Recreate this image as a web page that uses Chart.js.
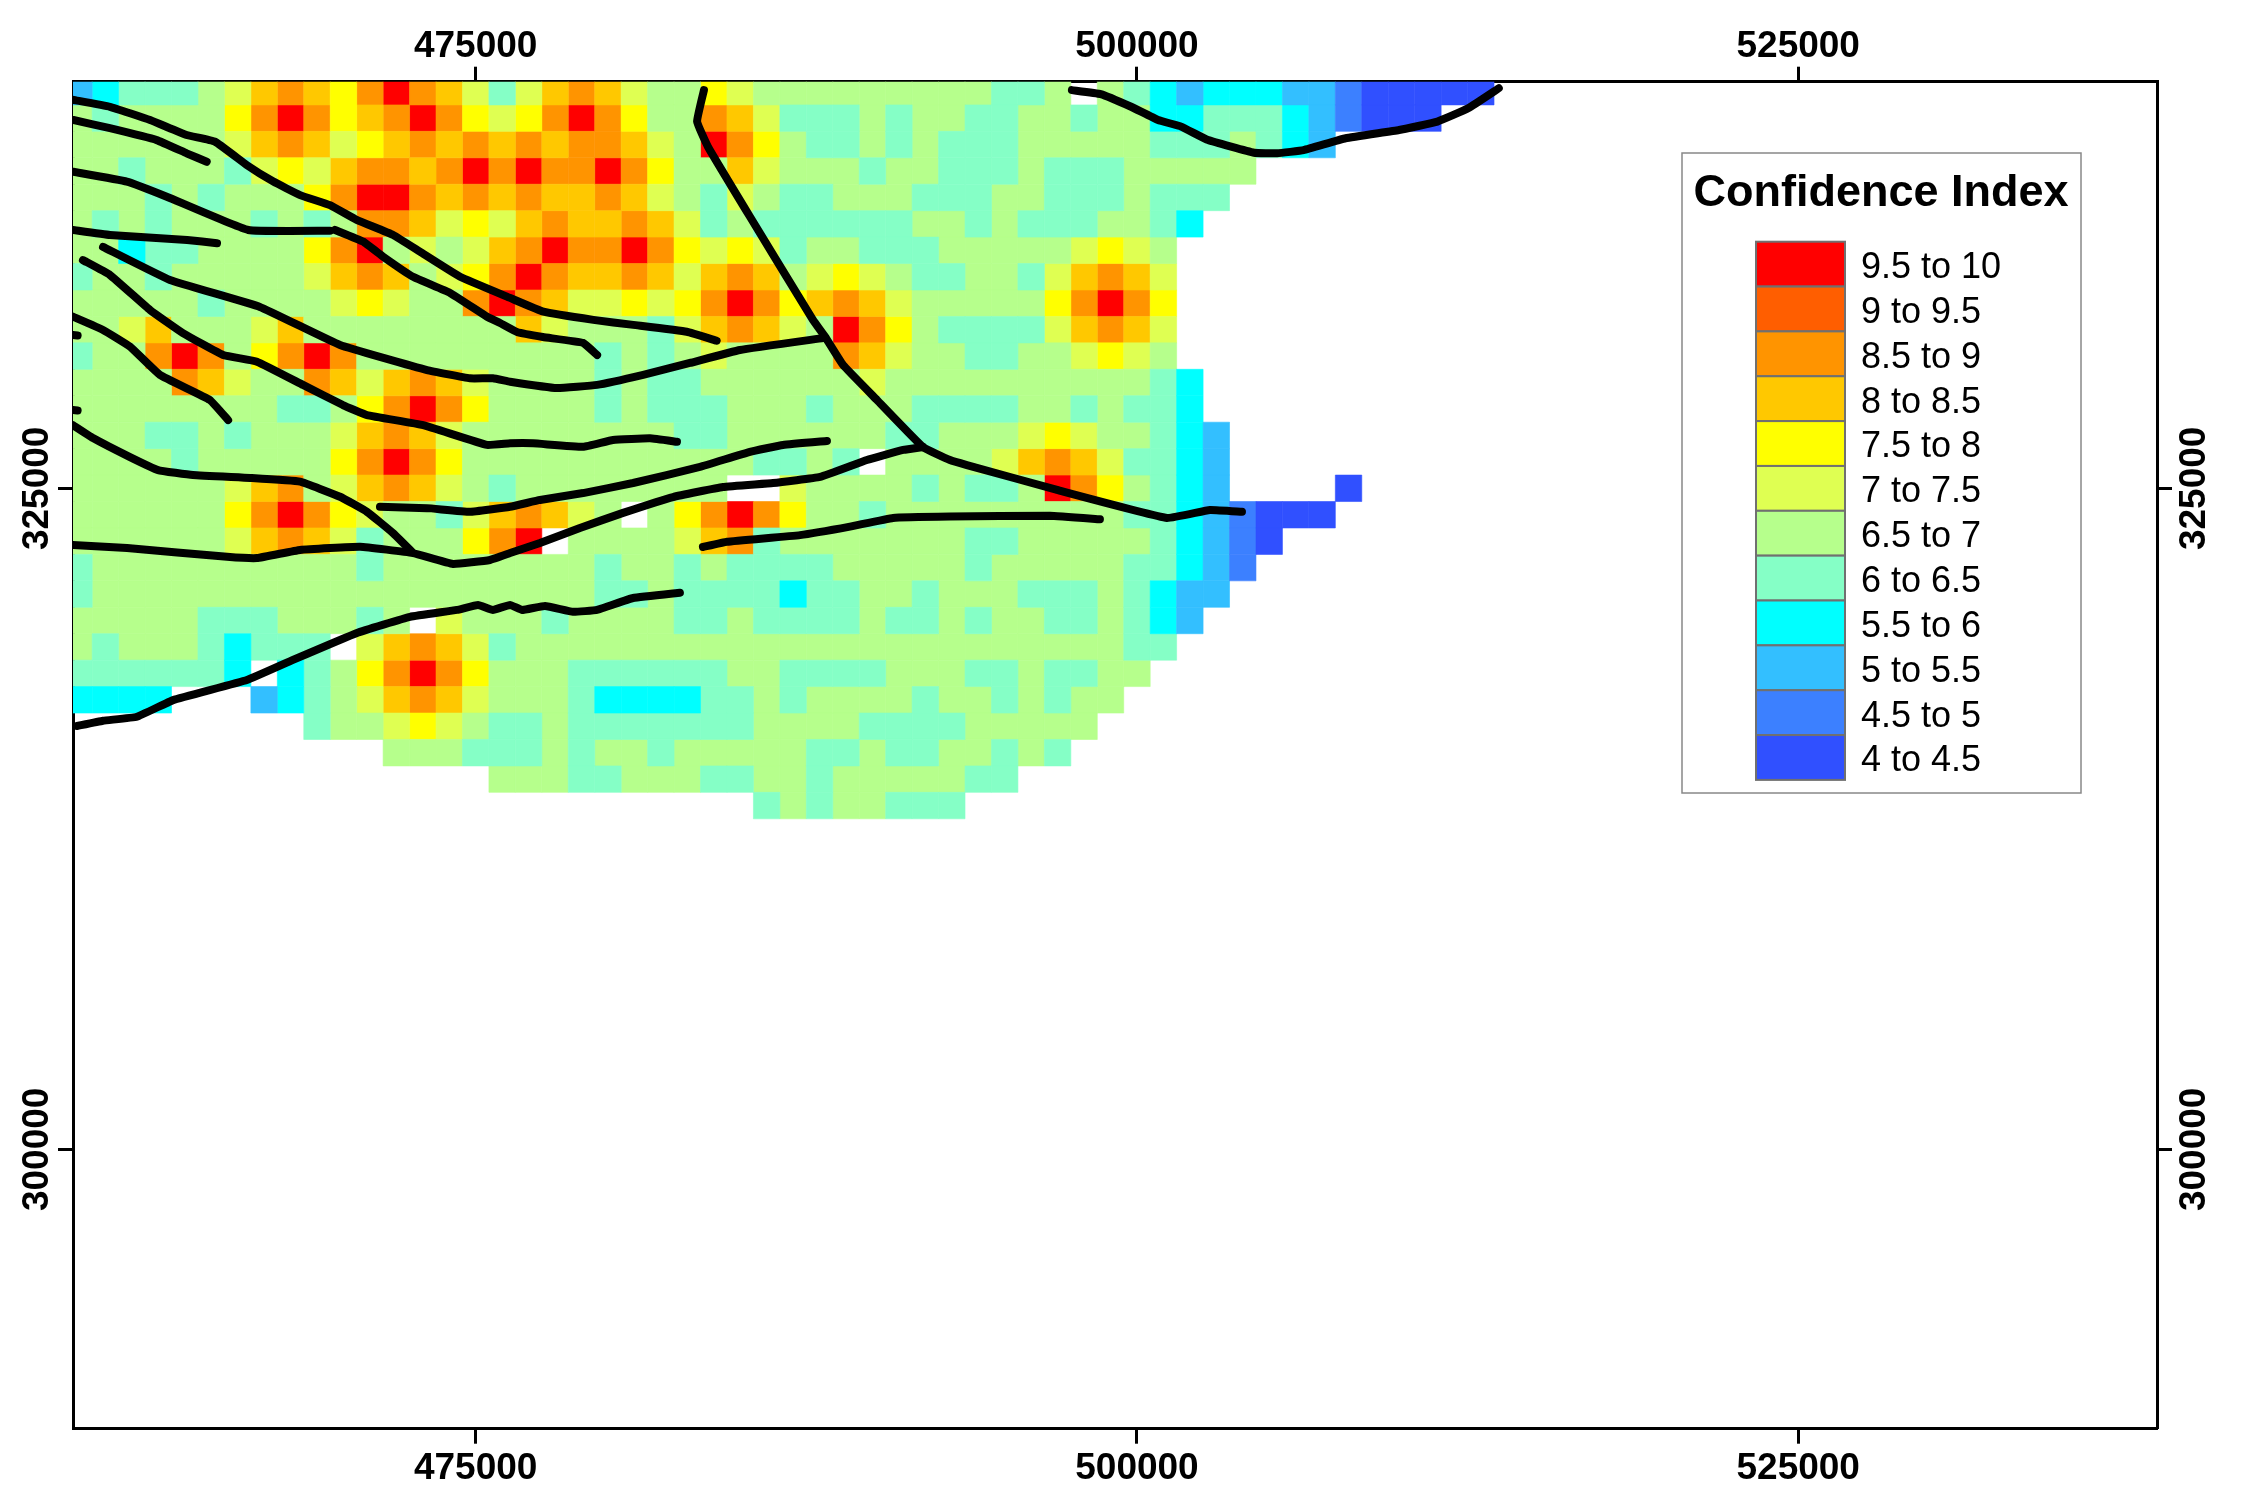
<!DOCTYPE html>
<html>
<head>
<meta charset="utf-8">
<style>
html, body { margin: 0; background: #fff; }
canvas { display: block; }
</style>
<script src="https://cdn.jsdelivr.net/npm/chart.js@4"></script>
</head>
<body>
<canvas id="chart" width="2246" height="1488"></canvas>
<script>
// class order runs from 4 to 4.5 up to 9.5 to 10
const classLabels = ["4 to 4.5", "4.5 to 5", "5 to 5.5", "5.5 to 6", "6 to 6.5", "6.5 to 7", "7 to 7.5", "7.5 to 8", "8 to 8.5", "8.5 to 9", "9 to 9.5", "9.5 to 10"];
const classColors = ["#3050FF", "#3C80FF", "#33BFFF", "#00FFFF", "#85FFC6", "#B6FF8C", "#DFFF52", "#FFFF00", "#FFC800", "#FF9400", "#FF5E00", "#FF0000"];

const xTicks = [475000, 500000, 525000];
const yTicks = [300000, 325000];

const firstEasting = 460000;
const firstNorthing = 340000;
const cellSize = 1000;

// one string per northing, one character per easting: class number in base 12, "." = no data
const cellRows = [
    "234445689879b9864689865576555555555445.543233322100000",
    "54555579b9789b97679b97559864445455445545533444321000",
    "555555689867898989899865b97544545444555554445432",
    "554555467689989b9b99b975586555455444544455555",
    "55545455579bb9898988986546544555444554445444",
    "5454555454599867689889864544444455454445543",
    "55344555579b565689b99b97676455444555556765",
    "45545555568985679b988986898567654455468986",
    "5555545555676559b98667679b9789865555579b97",
    "55685556855555555865554689865b975444468986",
    "4559b9579b95555555554545655559865544556765",
    "5555986559868986555545445555556555555555543",
    "5555555544579b97555545444555455544445545443",
    "55544545556898655555555445555554455567655432",
    "555545555579b97555555555554454.5555689864432",
    "5555556895689865455555555..6555545445b975432....0",
    "55555579b976554689865.579b9755455555555544321000",
    "55555568986455579b.555568945555555445555543210",
    "455555555554555555554554544445555545555544321",
    "45555555555555555555445444434455455544454322",
    "5555544455545.65554555544544445445455445432",
    "5455543444.689864" + "55555555555555555555555" + "44",
    "4444443.34579b975554444445544445554454455",
    "3333...234568986555433334454555545545455",
    ".........455676544544444445555444455555",
    "............55544454554555554454455454",
    "................55544555445545555544",
    "..........................45455444",
];

// fault traces, [easting, northing] in km
const faultA = [[459.79, 339.69], [461.17, 339.43], [462.69, 338.93], [464.07, 338.36], [465.14, 338.11], [466.34, 337.23], [467.35, 336.6], [468.36, 336.09], [469.49, 335.71], [470.5, 335.15], [471.88, 334.58], [472.89, 333.95], [474.41, 333], [476.3, 332.2], [477.56, 331.68], [479.45, 331.37], [480.96, 331.18], [482.98, 330.92], [484.11, 330.58]];
const faultB = [[459.79, 338.93], [461.17, 338.62], [462.94, 338.17], [464.07, 337.67], [464.83, 337.35]];
const faultC = [[459.79, 336.97], [461.81, 336.6], [463.32, 336.03], [466.4, 334.77], [469.49, 334.74]];
const faultD = [[469.68, 334.77], [470.74, 334.33], [471.5, 333.76], [472.63, 333], [474.03, 332.39], [475.43, 331.49], [475.92, 331.25], [476.56, 330.91], [477.54, 330.72], [479.06, 330.5], [479.59, 330.04]];
const faultE = [[459.77, 334.77], [461.17, 334.58], [464.09, 334.39], [465.22, 334.27]];
const faultF = [[460.15, 333.63], [461.17, 333.07], [462.69, 331.74], [463.93, 330.87], [465.45, 330.04], [466.73, 329.79], [468.47, 328.91], [469.98, 328.15], [470.89, 327.77], [473.01, 327.39], [475.43, 326.64], [476.3, 326.7], [477.17, 326.7], [479.06, 326.57], [480.19, 326.83], [481.59, 326.89], [482.61, 326.76]];
const faultG = [[460.91, 334.13], [463.44, 332.88], [466.84, 331.86], [469.87, 330.42], [473.16, 329.47], [474.78, 329.16], [475.65, 329.16], [476.3, 329.03], [478.07, 328.79], [479.59, 328.91], [481.33, 329.29], [483.1, 329.74], [484.99, 330.23], [488.13, 330.68]];
const faultH = [[459.77, 331.49], [460.91, 330.99], [461.93, 330.36], [463.06, 329.29], [464.95, 328.34], [465.64, 327.58]];
const faultI = [[459.77, 327.39], [460.53, 326.9], [461.93, 326.18], [462.99, 325.69], [464.31, 325.5], [466.47, 325.39], [468.36, 325.25], [469.87, 324.68], [470.89, 324.11], [471.87, 323.31], [472.59, 322.6]];
const faultJ = [[471.38, 324.3], [473.16, 324.25], [474.78, 324.11], [476.3, 324.3], [477.43, 324.56], [479.06, 324.82], [480.95, 325.2], [483.48, 325.81], [485.37, 326.38], [486.62, 326.64], [488.28, 326.79]];
const faultK = [[459.77, 322.86], [461.82, 322.74], [465.6, 322.41], [466.73, 322.36], [468.36, 322.67], [470.63, 322.79], [472.63, 322.55], [474.14, 322.14], [475.54, 322.29], [476.3, 322.55], [477.43, 322.93], [478.94, 323.5], [480.57, 324.07], [482.46, 324.67], [484.35, 325.05], [486.24, 325.2], [488.02, 325.43], [489.79, 326.07], [491.16, 326.45], [491.91, 326.56]];
const faultL = [[483.63, 340.06], [483.37, 338.87], [483.78, 337.92], [485.37, 335.27], [487.75, 331.37], [488.21, 330.73], [488.89, 329.66], [490.17, 328.34], [491.91, 326.56], [492.93, 326.07], [493.57, 325.88], [496.98, 324.94], [501.14, 323.88], [502.76, 324.18], [503.97, 324.11]];
const faultM = [[483.59, 322.78], [484.5, 322.98], [487.26, 323.23], [489.15, 323.55], [490.78, 323.88], [492.93, 323.93], [496.71, 323.96], [498.6, 323.83]];
const faultN = [[459.93, 316.01], [460.91, 316.21], [462.19, 316.36], [463.56, 316.99], [466.35, 317.75], [468.09, 318.51], [470.51, 319.53], [472.52, 320.14], [474.29, 320.4], [475.09, 320.59], [475.65, 320.4], [476.3, 320.59], [476.75, 320.4], [477.62, 320.55], [478.68, 320.33], [479.59, 320.4], [480.95, 320.85], [482.72, 321.05]];
const faultO = [[497.54, 340.06], [498.63, 339.91], [499.78, 339.43], [500.8, 338.93], [501.67, 338.68], [502.69, 338.17], [504.43, 337.69], [505.3, 337.67], [506.3, 337.79], [507.89, 338.24], [509.91, 338.55], [511.36, 338.87], [512.52, 339.37], [513.68, 340.13]];
const faultP = [[459.77, 330.8], [459.95, 330.78]];
const faultQ = [[459.77, 327.96], [459.95, 327.94]];
const faults = [faultA, faultB, faultC, faultD, faultE, faultF, faultG, faultH, faultI, faultJ, faultK, faultL, faultM, faultN, faultO, faultP, faultQ];

const cellData = classLabels.map(() => []);
cellRows.forEach((row, r) => {
    [...row].forEach((ch, c) => {
        if (ch === ".") return;
        cellData[parseInt(ch, 12)].push({ x: firstEasting + c * cellSize, y: firstNorthing - r * cellSize });
    });
});

function cellRadius(ctx) {
    const s = ctx.chart.scales.x;
    return Math.abs(s.getPixelForValue(cellSize) - s.getPixelForValue(0)) / Math.SQRT2;
}

const cellSets = classLabels.map((label, i) => ({
    label: label,
    data: cellData[i],
    order: 1,
    clip: 0,
    showLine: false,
    pointStyle: "rect",
    pointRadius: cellRadius,
    backgroundColor: classColors[i],
    borderColor: classColors[i],
    pointBorderWidth: 0.6,
}));

const faultSets = faults.map((f) => ({
    data: f.map((p) => ({ x: p[0] * 1000, y: p[1] * 1000 })),
    order: 0,
    clip: 0,
    showLine: true,
    pointRadius: 0,
    borderColor: "#000",
    borderWidth: 8,
    borderCapStyle: "round",
    borderJoinStyle: "round",
    tension: 0.1,
}));

const legendBox = {
    id: "legendBox",
    afterDraw(chart) {
        const c = chart.ctx;
        c.save();
        c.fillStyle = "#fff";
        c.strokeStyle = "#888";
        c.lineWidth = 1.5;
        c.fillRect(1682, 153, 399, 640);
        c.strokeRect(1682, 153, 399, 640);
        c.fillStyle = "#000";
        c.textAlign = "center";
        c.textBaseline = "middle";
        c.font = "bold 45px 'Liberation Sans'";
        c.fillText("Confidence Index", 1881, 194);
        c.font = "36px 'Liberation Sans'";
        c.textAlign = "left";
        const h = 44.85;
        for (let i = 0; i < classLabels.length; i++) {
            const k = classLabels.length - 1 - i;
            const y = 241.7 + i * h;
            c.fillStyle = classColors[k];
            c.fillRect(1756, y, 89, h);
            c.strokeStyle = "#707070";
            c.lineWidth = 2;
            c.strokeRect(1756, y, 89, h);
            c.fillStyle = "#000";
            c.fillText(classLabels[k], 1861, y + h / 2 + 4);
        }
        c.restore();
    },
};

function axisOptions(position, axis, min, max, values, size, pad) {
    const vertical = axis === "y";
    return {
        type: "linear",
        axis: axis,
        position: position,
        min: min,
        max: max,
        z: 1,
        afterBuildTicks(s) { s.ticks = values.map((v) => ({ value: v })); },
        afterFit(s) { if (vertical) s.width = size; else s.height = size; },
        border: { display: true, color: "#000", width: 3 },
        grid: { drawOnChartArea: false, drawTicks: true, tickLength: 15, tickWidth: 3, tickColor: "#000" },
        ticks: {
            autoSkip: false,
            color: "#000",
            font: { family: "'Liberation Sans'", size: 37, weight: "bold" },
            callback: (v) => String(v),
            minRotation: vertical ? 90 : 0,
            maxRotation: vertical ? 90 : 0,
            crossAlign: vertical ? "center" : "near",
            padding: pad,
        },
    };
}

new Chart(document.getElementById("chart"), {
    type: "scatter",
    data: { datasets: cellSets.concat(faultSets) },
    options: {
        responsive: false,
        devicePixelRatio: 1,
        animation: false,
        events: [],
        layout: { padding: 0 },
        plugins: { legend: { display: false }, tooltip: { enabled: false } },
        scales: {
            x: axisOptions("bottom", "x", 459775, 538565, xTicks, 59.3, 3),
            xTop: axisOptions("top", "x", 459775, 538565, xTicks, 81.7, -2),
            y: axisOptions("left", "y", 289433, 340378, yTicks, 73, -42),
            yRight: axisOptions("right", "y", 289433, 340378, yTicks, 89, -39),
        },
    },
    plugins: [legendBox],
});
</script>
</body>
</html>
